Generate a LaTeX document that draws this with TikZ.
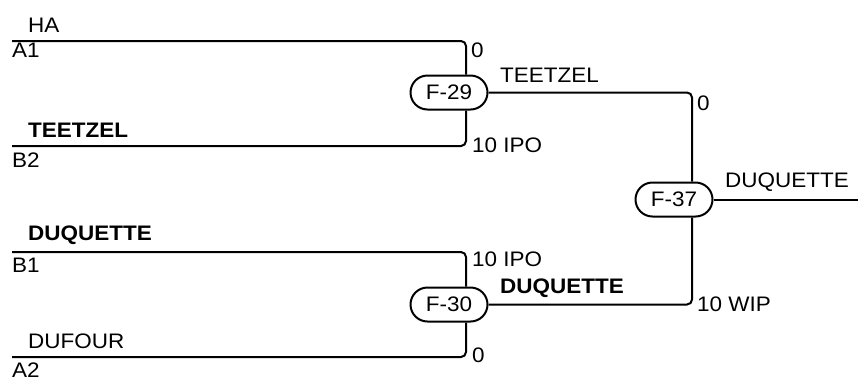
\documentclass[tikz,border=0pt]{standalone}
\usepackage{fontspec}
\setmainfont{Liberation Sans}[FakeStretch=1.07]
\usetikzlibrary{shapes.misc}
\tikzset{
  wire/.style={line width=2pt, rounded corners=5pt},
  match/.style={draw, line width=2pt, rounded rectangle, minimum width=77pt, minimum height=34pt, inner sep=0pt, font=\fontsize{21}{24}\selectfont},
  lbl/.style={anchor=base west, inner sep=0pt, font=\fontsize{21}{24}\selectfont},
  blbl/.style={lbl, font=\fontsize{21}{24}\selectfont\bfseries},
}
\begin{document}
\begin{tikzpicture}[x=1pt,y=-1pt]
\useasboundingbox (0,0) rectangle (858,376);
% match nodes
\node[match] (f29) at (449,92.5) {F-29};
\node[match] (f37) at (674,199.5) {F-37};
\node[match] (f30) at (449,304.5) {F-30};
% start coordinates
\coordinate (a1) at (12,41);
\coordinate (b2) at (12,146);
\coordinate (b1) at (12,252);
\coordinate (a2) at (12,357);
\coordinate (fin) at (858,199.5);
% connectors
\draw[wire] (a1) -| ([xshift=17pt]f29.north);
\draw[wire] (b2) -| ([xshift=17pt]f29.south);
\draw[wire] (b1) -| ([xshift=17pt]f30.north);
\draw[wire] (a2) -| ([xshift=17pt]f30.south);
\draw[wire] (f29.east) -| ([xshift=18pt]f37.north);
\draw[wire] (f30.east) -| ([xshift=18pt]f37.south);
\draw[wire] (f37.east) -- (fin);
% left labels
\node[lbl] (ha) at (28,32) {HA};
\node[lbl] (sa1) at (12,57) {A1};
\node[blbl] (teetzelL) at (28,137) {TEETZEL};
\node[lbl] (sb2) at (12,167) {B2};
\node[blbl] (duquetteL) at (28,240) {DUQUETTE};
\node[lbl] (sb1) at (12,272) {B1};
\node[lbl] (dufour) at (28,348) {DUFOUR};
\node[lbl] (sa2) at (12,377) {A2};
% match labels
\node[lbl] (s29a) at (471,57) {0};
\node[lbl] (s29b) at (472,152) {10 IPO};
\node[lbl] (w29) at (500,82) {TEETZEL};
\node[lbl] (s30a) at (472,266) {10 IPO};
\node[lbl] (s30b) at (472,362) {0};
\node[blbl] (w30) at (500,293) {DUQUETTE};
\node[lbl] (s37a) at (697,110) {0};
\node[lbl] (s37b) at (697,311) {10 WIP};
\node[lbl] (w37) at (725,187) {DUQUETTE};
\end{tikzpicture}
\end{document}
